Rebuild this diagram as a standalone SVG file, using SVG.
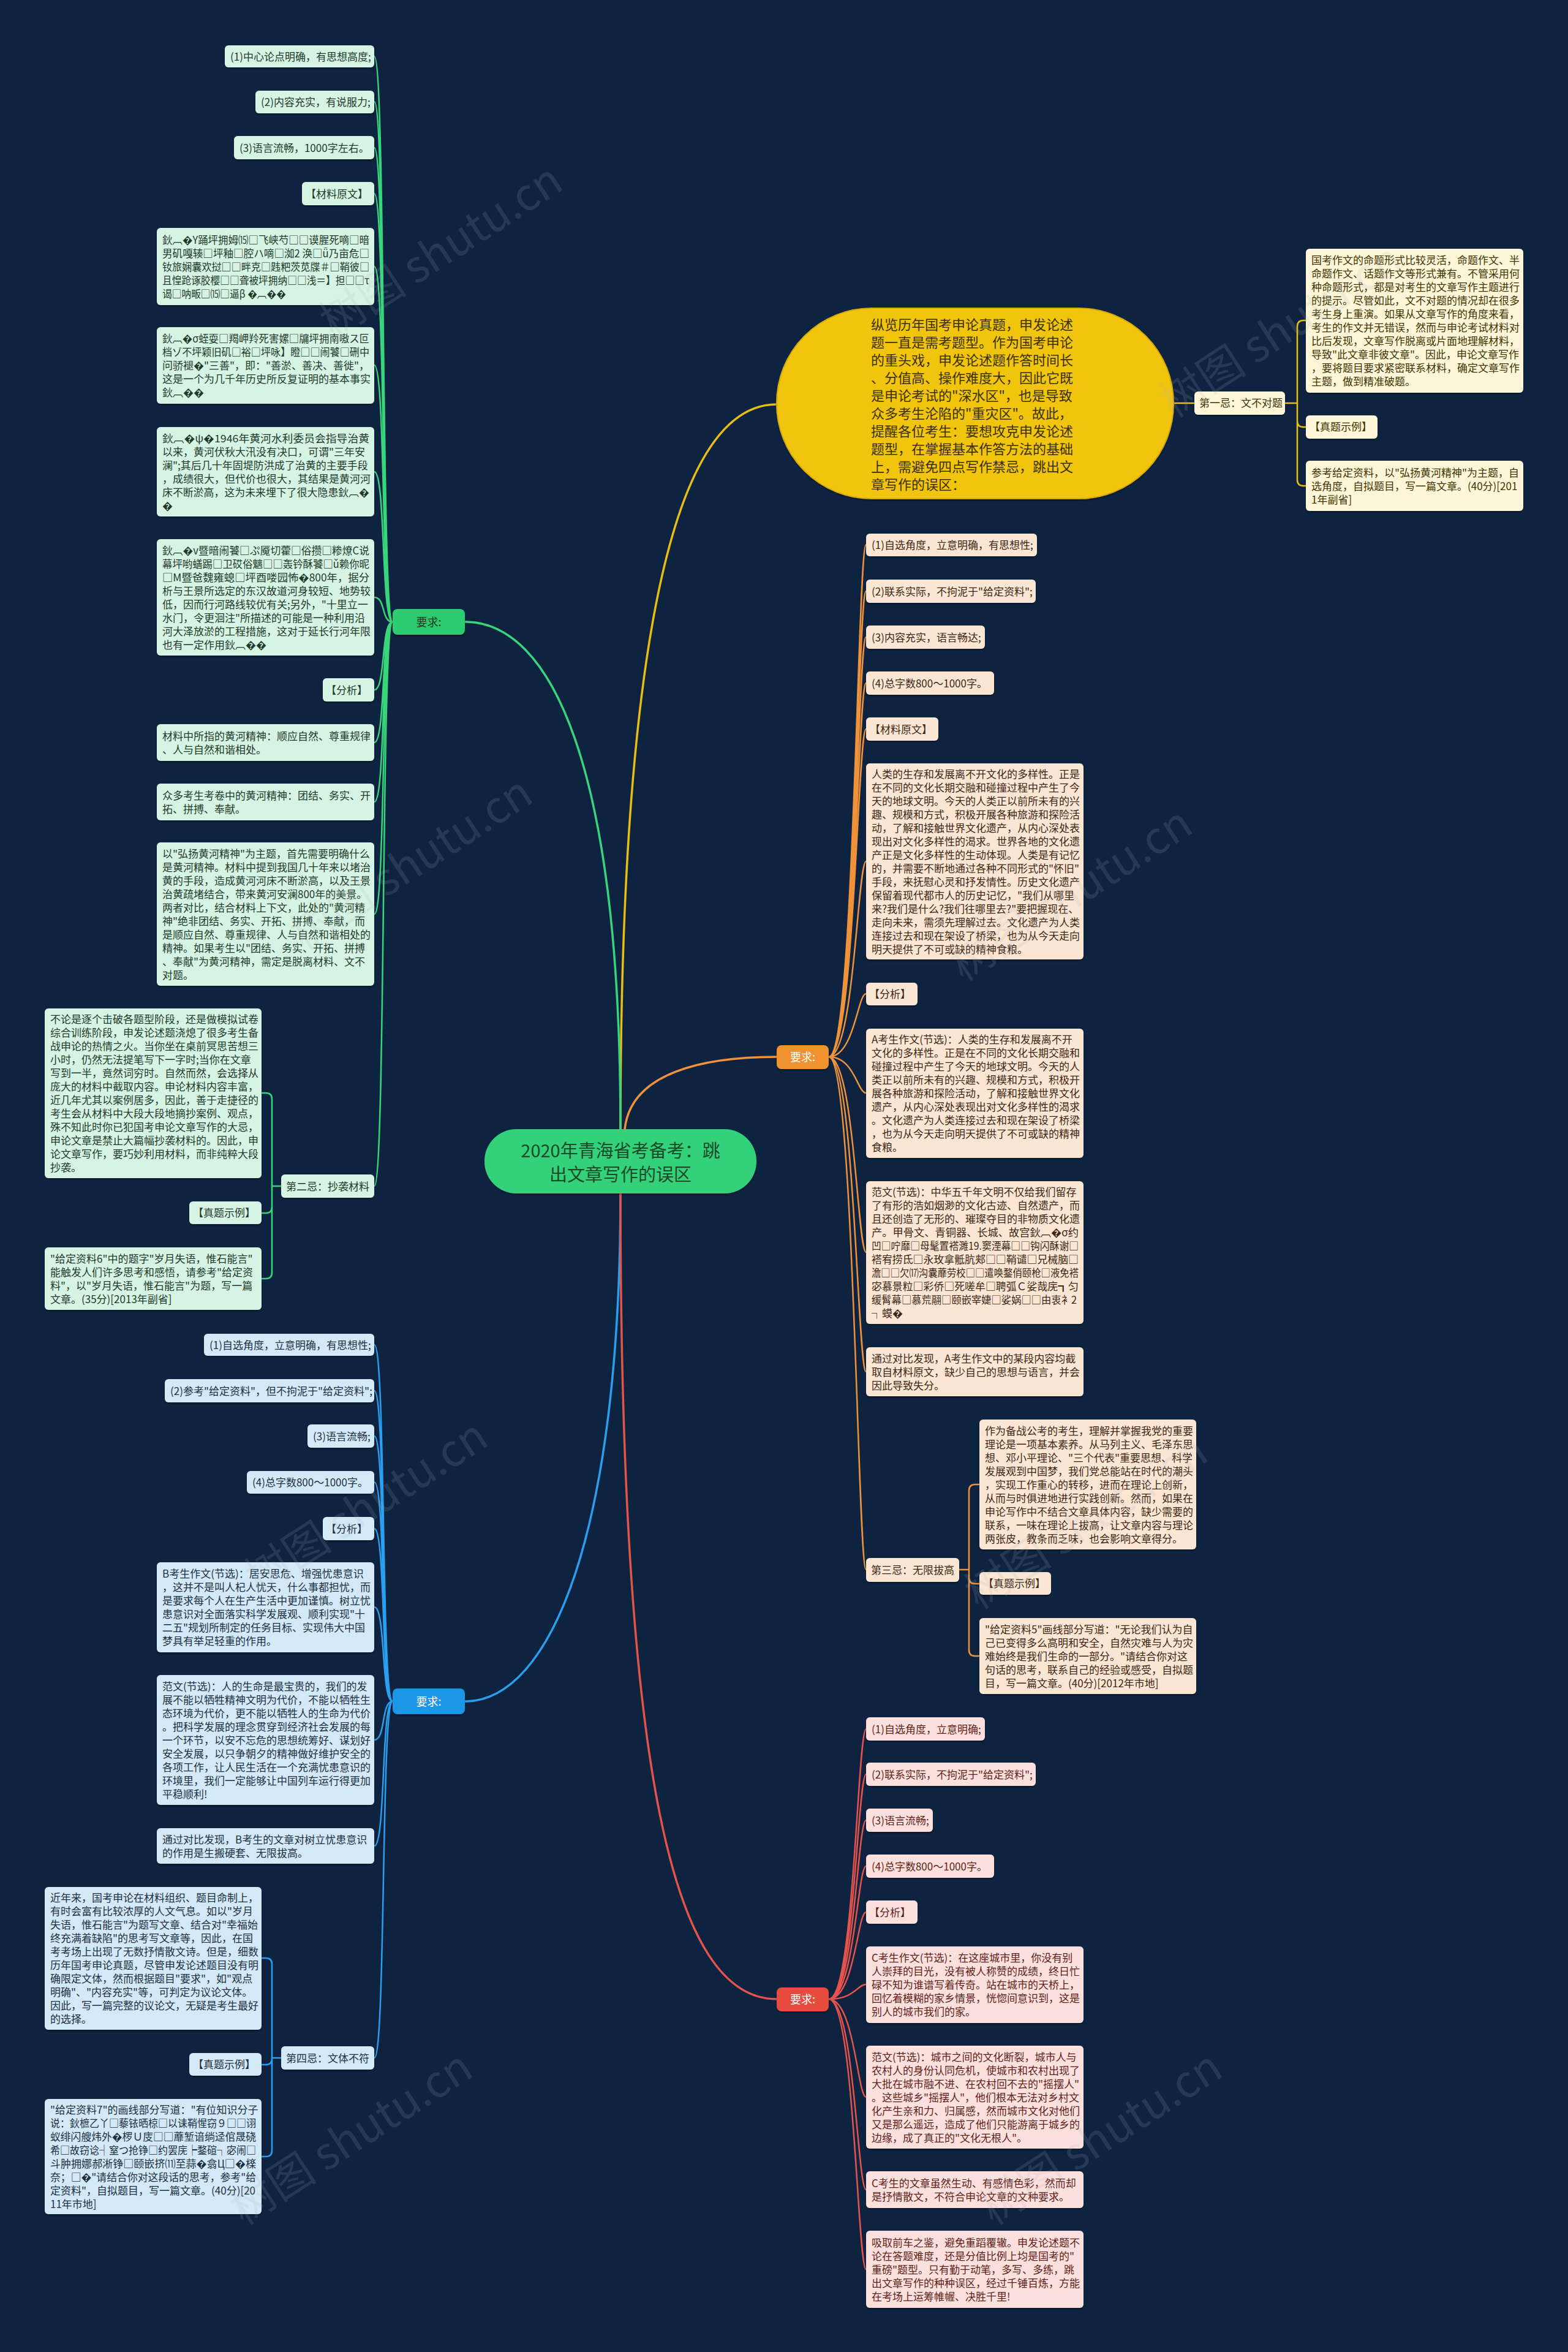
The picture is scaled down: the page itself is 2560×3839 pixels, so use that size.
<svg xmlns="http://www.w3.org/2000/svg" width="2560" height="3839" viewBox="0 0 2560 3839">
<defs>
<filter id="sh" x="-5%" y="-10%" width="110%" height="130%"><feDropShadow dx="0" dy="2" stdDeviation="1.2" flood-color="#000" flood-opacity="0.35"/></filter>
<style>
text{font-family:"Noto Sans CJK SC","Noto Sans","DejaVu Sans",sans-serif;font-size:17px}
.n rect{filter:url(#sh)}
.gr rect{fill:#d6f4e3}.gr text{fill:#1f3a2a}
.bl rect{fill:#d3e9f7}.bl text{fill:#1d2f42}
.or rect{fill:#fbe6d3}.or text{fill:#3e2614}
.rd rect{fill:#fce0dd}.rd text{fill:#5c1f18}
.ye rect{fill:#fdf6d9}.ye text{fill:#3f3400}
.c{fill:none;stroke-linecap:round;stroke-linejoin:round}
.cg{stroke:#37d67a;stroke-width:2.5}
.cb{stroke:#2a9ff0;stroke-width:2.5}
.co{stroke:#f0923a;stroke-width:2.5}
.cr{stroke:#e5534b;stroke-width:2.5}
.cy{stroke:#e9bd12;stroke-width:2.5}
.main{stroke-width:3.5}
.rt{font-size:29px;fill:#1a4a28}
.et{font-size:22px;fill:#3a3000}
.rq{font-size:18px}
.wm{font-size:72px;fill:#aab4c0;opacity:0.15}
</style>
</defs>
<rect width="2560" height="3839" fill="#0e2340"/>

<g id="connectors">
<path class="c cy main" d="M1013,1843 C1013,1150 1080,660 1268,660"/>
<path class="c co main" d="M1020,1843 C1030,1750 1150,1725 1268,1725"/>
<path class="c cg main" d="M759,1015 C900,1015 1013,1250 1013,1843"/>
<path class="c cb main" d="M759,2777 C900,2777 1013,2500 1013,1948"/>
<path class="c cr main" d="M1013,1948 C1013,2900 1100,3263 1268,3263"/>
<path class="c cy" d="M1916,658 H1950"/>
<path class="c cy" d="M2098,658 H2118 M2118,658 V533 Q2118,523 2128,523 H2132 M2118,658 V687 Q2118,697 2128,697 H2132 M2118,658 V783 Q2118,793 2128,793 H2132"/>
<path class="c cg" d="M641,1015 C622,1015 630,92 611,92 M641,1015 C622,1015 630,166 611,166 M641,1015 C622,1015 630,241 611,241 M641,1015 C622,1015 630,316 611,316 M641,1015 C622,1015 630,435 611,435 M641,1015 C622,1015 630,596 611,596 M641,1015 C622,1015 630,770 611,770 M641,1015 C622,1015 630,975 611,975 M641,1015 C622,1015 630,1126 611,1126 M641,1015 C622,1015 630,1212 611,1212 M641,1015 C622,1015 630,1309 611,1309 M641,1015 C622,1015 630,1492 611,1492 M641,1015 C622,1015 630,1936 611,1936"/>
<path class="c cg" d="M459,1936 H444 M444,1936 V1794 Q444,1784 434,1784 H427 M444,1936 V1970 Q444,1980 434,1980 H427 M444,1936 V2077 Q444,2087 434,2087 H427"/>
<path class="c cb" d="M641,2777 C622,2777 630,2195 611,2195 M641,2777 C622,2777 630,2270 611,2270 M641,2777 C622,2777 630,2344 611,2344 M641,2777 C622,2777 630,2419 611,2419 M641,2777 C622,2777 630,2495 611,2495 M641,2777 C622,2777 630,2623 611,2623 M641,2777 C622,2777 630,2840 611,2840 M641,2777 C622,2777 630,3013 611,3013 M641,2777 C622,2777 630,3359 611,3359"/>
<path class="c cb" d="M459,3359 H444 M444,3359 V3206 Q444,3196 434,3196 H427 M444,3359 V3360 Q444,3370 434,3370 H427 M444,3359 V3510 Q444,3520 434,3520 H427"/>
<path class="c co" d="M1353,1725 C1395,1725 1400,889 1414,889 M1353,1725 C1395,1725 1400,965 1414,965 M1353,1725 C1395,1725 1400,1040 1414,1040 M1353,1725 C1395,1725 1400,1115 1414,1115 M1353,1725 C1395,1725 1400,1190 1414,1190 M1353,1725 C1395,1725 1400,1406 1414,1406 M1353,1725 C1395,1725 1400,1622 1414,1622 M1353,1725 C1395,1725 1400,1784 1414,1784 M1353,1725 C1395,1725 1400,2044 1414,2044 M1353,1725 C1395,1725 1400,2239 1414,2239 M1353,1725 C1395,1725 1400,2562 1414,2562"/>
<path class="c co" d="M1566,2562 H1582 M1582,2562 V2433 Q1582,2423 1592,2423 H1599 M1582,2562 V2575 Q1582,2585 1592,2585 H1599 M1582,2562 V2693 Q1582,2703 1592,2703 H1599"/>
<path class="c cr" d="M1353,3263 C1395,3263 1400,2822 1414,2822 M1353,3263 C1395,3263 1400,2896 1414,2896 M1353,3263 C1395,3263 1400,2971 1414,2971 M1353,3263 C1395,3263 1400,3046 1414,3046 M1353,3263 C1395,3263 1400,3121 1414,3121 M1353,3263 C1395,3263 1400,3239 1414,3239 M1353,3263 C1395,3263 1400,3423 1414,3423 M1353,3263 C1395,3263 1400,3574 1414,3574 M1353,3263 C1395,3263 1400,3704 1414,3704"/>
</g>

<g id="root" class="n"><rect x="791" y="1843" width="444" height="105" rx="52" fill="#33d17a"/>
<text class="rt" x="1013" y="1889" text-anchor="middle">2020年青海省考备考：跳</text>
<text class="rt" x="1013" y="1928" text-anchor="middle">出文章写作的误区</text></g>

<g id="intro" class="n"><rect x="1268" y="503" width="648" height="311" rx="155" fill="#f1c40f" stroke="#d6a90a" stroke-width="2"/>
<text class="et"><tspan x="1422" y="538">纵览历年国考申论真题，申发论述</tspan><tspan x="1422" y="567">题一直是需考题型。作为国考申论</tspan><tspan x="1422" y="596">的重头戏，申发论述题作答时间长</tspan><tspan x="1422" y="625">、分值高、操作难度大，因此它既</tspan><tspan x="1422" y="654">是申论考试的"深水区"，也是导致</tspan><tspan x="1422" y="683">众多考生沦陷的"重灾区"。故此，</tspan><tspan x="1422" y="712">提醒各位考生：要想攻克申发论述</tspan><tspan x="1422" y="741">题型，在掌握基本作答方法的基础</tspan><tspan x="1422" y="770">上，需避免四点写作禁忌，跳出文</tspan><tspan x="1422" y="799">章写作的误区：</tspan></text></g>

<g id="y-ji1" class="n ye"><rect x="1950" y="639" width="148" height="38" rx="6"/><text x="1958" y="664">第一忌：文不对题</text></g>
<g id="y-txt" class="n ye"><rect x="2132" y="406" width="355" height="235" rx="6"/><text><tspan x="2141" y="431">国考作文的命题形式比较灵活，命题作文、半</tspan><tspan x="2141" y="453">命题作文、话题作文等形式兼有。不管采用何</tspan><tspan x="2141" y="475">种命题形式，都是对考生的文章写作主题进行</tspan><tspan x="2141" y="497">的提示。尽管如此，文不对题的情况却在很多</tspan><tspan x="2141" y="519">考生身上重演。如果从文章写作的角度来看，</tspan><tspan x="2141" y="541">考生的作文并无错误，然而与申论考试材料对</tspan><tspan x="2141" y="563">比后发现，文章写作脱离或片面地理解材料，</tspan><tspan x="2141" y="585">导致"此文章非彼文章"。因此，申论文章写作</tspan><tspan x="2141" y="607">，要将题目要求紧密联系材料，确定文章写作</tspan><tspan x="2141" y="629">主题，做到精准破题。</tspan></text></g>
<g id="y-zt" class="n ye"><rect x="2132" y="678" width="117" height="38" rx="6"/><text x="2138" y="703">【真题示例】</text></g>
<g id="y-q" class="n ye"><rect x="2132" y="752" width="355" height="82" rx="6"/><text><tspan x="2141" y="777.5">参考给定资料，以"弘扬黄河精神"为主题，自</tspan><tspan x="2141" y="799.5">选角度，自拟题目，写一篇文章。(40分)[201</tspan><tspan x="2141" y="821.5">1年副省]</tspan></text></g>

<g id="g-req" class="n"><rect x="641" y="994" width="118" height="42" rx="8" fill="#2ecc71"/><text class="rq" x="700" y="1022" text-anchor="middle" fill="#173a22">要求:</text></g>
<g id="g1" class="n gr"><rect x="367" y="74" width="244" height="36" rx="6"/><text x="376" y="98.5">(1)中心论点明确，有思想高度;</text></g>
<g id="g2" class="n gr"><rect x="417" y="148" width="194" height="37" rx="6"/><text x="426" y="173">(2)内容充实，有说服力;</text></g>
<g id="g3" class="n gr"><rect x="382" y="222" width="229" height="38" rx="6"/><text x="391" y="247.5">(3)语言流畅，1000字左右。</text></g>
<g id="g4" class="n gr"><rect x="493" y="297" width="118" height="38" rx="6"/><text x="499" y="322.5">【材料原文】</text></g>
<g id="g5" class="n gr"><rect x="256" y="372" width="355" height="126" rx="6"/>
<text x="265" y="397.5" textLength="338" lengthAdjust="spacingAndGlyphs">鈥︹�Y踊坪拥姆⒂□飞峡芍□□谟腥死嘀□暗</text>
<text x="265" y="419.5" textLength="338" lengthAdjust="spacingAndGlyphs">男矶嘎辏□坪釉□腔ハ嘀□洳2 涣□ǖ乃亩危□</text>
<text x="265" y="441.5" textLength="338" lengthAdjust="spacingAndGlyphs">钕旅娴囊欢挝□□畔克□韪粑茨苋牒＃□鞘彼□</text>
<text x="265" y="463.5" textLength="338" lengthAdjust="spacingAndGlyphs">且惶跄诼胶樱□□聋被坪拥纳□□浅＝】担□□τ</text>
<text x="265" y="485.5" textLength="202" lengthAdjust="spacingAndGlyphs">谒□呐畈□⒂□逼β  �︹��</text></g>
<g id="g6" class="n gr"><rect x="256" y="534" width="355" height="125" rx="6"/>
<text x="265" y="559" textLength="338" lengthAdjust="spacingAndGlyphs">鈥︹�σ蛭耍□羯岬羚死害嫘□牖坪拥南嗷ス叵</text>
<text x="265" y="581" textLength="338" lengthAdjust="spacingAndGlyphs">档ゾ不坪颖旧矶□裕□坪咏】瞪□□闹饕□硎中</text>
<text x="265" y="603" textLength="338" lengthAdjust="spacingAndGlyphs">问骄褪�"三善"，即："善淤、善决、善徙"，</text>
<text x="265" y="625">这是一个为几千年历史所反复证明的基本事实</text>
<text x="265" y="647">鈥︹��</text></g>
<g id="g7" class="n gr"><rect x="256" y="697" width="355" height="146" rx="6"/>
<text x="265" y="721.5" textLength="338" lengthAdjust="spacingAndGlyphs">鈥︹�ψ�1946年黄河水利委员会指导治黄</text>
<text><tspan x="265" y="743.5">以来，黄河伏秋大汛没有决口，可谓"三年安</tspan><tspan x="265" y="765.5">澜";其后几十年固堤防洪成了治黄的主要手段</tspan><tspan x="265" y="787.5">，成绩很大，但代价也很大，其结果是黄河河</tspan></text>
<text x="265" y="809.5" textLength="338" lengthAdjust="spacingAndGlyphs">床不断淤高，这为未来埋下了很大隐患鈥︹�</text>
<text x="265" y="831.5">�</text></g>
<g id="g8" class="n gr"><rect x="256" y="880" width="355" height="190" rx="6"/>
<text x="265" y="904.5" textLength="338" lengthAdjust="spacingAndGlyphs">鈥︹�v暨暗闹饕□ぷ魇切藿□俗攒□糁燎C说</text>
<text x="265" y="926.5" textLength="338" lengthAdjust="spacingAndGlyphs">幕坪哟蟮踢□卫砹俗魑□□轰钤酥饕□ǔ赖你昵</text>
<text x="265" y="948.5" textLength="338" lengthAdjust="spacingAndGlyphs">□M暨爸魏雍螅□坪酉喽园怖�800年，据分</text>
<text><tspan x="265" y="970.5">析与王景所选定的东汉故道河身较短、地势较</tspan><tspan x="265" y="992.5">低，因而行河路线较优有关;另外，"十里立一</tspan><tspan x="265" y="1014.5">水门，令更洄注"所描述的可能是一种利用沿</tspan><tspan x="265" y="1036.5">河大泽放淤的工程措施，这对于延长行河年限</tspan><tspan x="265" y="1058.5">也有一定作用鈥︹��</tspan></text></g>
<g id="g9" class="n gr"><rect x="527" y="1107" width="84" height="38" rx="6"/><text x="532" y="1132.5">【分析】</text></g>
<g id="g10" class="n gr"><rect x="256" y="1182" width="355" height="60" rx="6"/><text><tspan x="265" y="1207.5">材料中所指的黄河精神：顺应自然、尊重规律</tspan><tspan x="265" y="1229.5">、人与自然和谐相处。</tspan></text></g>
<g id="g11" class="n gr"><rect x="256" y="1279" width="355" height="60" rx="6"/><text><tspan x="265" y="1304.5">众多考生考卷中的黄河精神：团结、务实、开</tspan><tspan x="265" y="1326.5">拓、拼搏、奉献。</tspan></text></g>
<g id="g12" class="n gr"><rect x="256" y="1375" width="355" height="234" rx="6"/><text><tspan x="265" y="1399.5">以"弘扬黄河精神"为主题，首先需要明确什么</tspan><tspan x="265" y="1421.5">是黄河精神。材料中提到我国几十年来以堵治</tspan><tspan x="265" y="1443.5">黄的手段，造成黄河河床不断淤高，以及王景</tspan><tspan x="265" y="1465.5">治黄疏堵结合，带来黄河安澜800年的美景。</tspan><tspan x="265" y="1487.5">两者对比，结合材料上下文，此处的"黄河精</tspan><tspan x="265" y="1509.5">神"绝非团结、务实、开拓、拼搏、奉献，而</tspan><tspan x="265" y="1531.5">是顺应自然、尊重规律、人与自然和谐相处的</tspan><tspan x="265" y="1553.5">精神。如果考生以"团结、务实、开拓、拼搏</tspan><tspan x="265" y="1575.5">、奉献"为黄河精神，需定是脱离材料、文不</tspan><tspan x="265" y="1597.5">对题。</tspan></text></g>
<g id="g-ji2" class="n gr"><rect x="459" y="1917" width="152" height="38" rx="6"/><text x="467" y="1942.5">第二忌：抄袭材料</text></g>
<g id="g-ji2-txt" class="n gr"><rect x="73" y="1646" width="354" height="277" rx="6"/><text><tspan x="82" y="1670">不论是逐个击破各题型阶段，还是做模拟试卷</tspan><tspan x="82" y="1692">综合训练阶段，申发论述题浇熄了很多考生备</tspan><tspan x="82" y="1714">战申论的热情之火。当你坐在桌前冥思苦想三</tspan><tspan x="82" y="1736">小时，仍然无法提笔写下一字时;当你在文章</tspan><tspan x="82" y="1758">写到一半，竟然词穷时。自然而然，会选择从</tspan><tspan x="82" y="1780">庞大的材料中截取内容。申论材料内容丰富，</tspan><tspan x="82" y="1802">近几年尤其以案例居多，因此，善于走捷径的</tspan><tspan x="82" y="1824">考生会从材料中大段大段地摘抄案例、观点，</tspan><tspan x="82" y="1846">殊不知此时你已犯国考申论文章写作的大忌，</tspan><tspan x="82" y="1868">申论文章是禁止大篇幅抄袭材料的。因此，申</tspan><tspan x="82" y="1890">论文章写作，要巧妙利用材料，而非纯粹大段</tspan><tspan x="82" y="1912">抄袭。</tspan></text></g>
<g id="g-ji2-zt" class="n gr"><rect x="309" y="1961" width="118" height="37" rx="6"/><text x="315" y="1986">【真题示例】</text></g>
<g id="g-ji2-q" class="n gr"><rect x="73" y="2036" width="354" height="102" rx="6"/><text><tspan x="82" y="2060.5">"给定资料6"中的题字"岁月失语，惟石能言"</tspan><tspan x="82" y="2082.5">能触发人们许多思考和感悟，请参考"给定资</tspan><tspan x="82" y="2104.5">料"，以"岁月失语，惟石能言"为题，写一篇</tspan><tspan x="82" y="2126.5">文章。(35分)[2013年副省]</tspan></text></g>

<g id="b-req" class="n"><rect x="641" y="2756" width="118" height="42" rx="8" fill="#1e96e6"/><text class="rq" x="700" y="2784" text-anchor="middle" fill="#ffffff">要求:</text></g>
<g id="b1" class="n bl"><rect x="333" y="2177" width="278" height="36" rx="6"/><text x="342" y="2201.5">(1)自选角度，立意明确，有思想性;</text></g>
<g id="b2" class="n bl"><rect x="269" y="2251" width="342" height="38" rx="6"/><text x="278" y="2276.5">(2)参考"给定资料"，但不拘泥于"给定资料";</text></g>
<g id="b3" class="n bl"><rect x="502" y="2325" width="109" height="38" rx="6"/><text x="511" y="2350.5">(3)语言流畅;</text></g>
<g id="b4" class="n bl"><rect x="403" y="2401" width="208" height="37" rx="6"/><text x="412" y="2426">(4)总字数800～1000字。</text></g>
<g id="b5" class="n bl"><rect x="527" y="2476" width="84" height="38" rx="6"/><text x="532" y="2501.5">【分析】</text></g>
<g id="b6" class="n bl"><rect x="256" y="2550" width="355" height="147" rx="6"/><text><tspan x="265" y="2575">B考生作文(节选)：居安思危、增强忧患意识</tspan><tspan x="265" y="2597">，这并不是叫人杞人忧天，什么事都担忧，而</tspan><tspan x="265" y="2619">是要求每个人在生产生活中更加谨慎。树立忧</tspan><tspan x="265" y="2641">患意识对全面落实科学发展观、顺利实现"十</tspan><tspan x="265" y="2663">二五"规划所制定的任务目标、实现伟大中国</tspan><tspan x="265" y="2685">梦具有举足轻重的作用。</tspan></text></g>
<g id="b7" class="n bl"><rect x="256" y="2734" width="355" height="212" rx="6"/><text><tspan x="265" y="2758.5">范文(节选)：人的生命是最宝贵的，我们的发</tspan><tspan x="265" y="2780.5">展不能以牺牲精神文明为代价，不能以牺牲生</tspan><tspan x="265" y="2802.5">态环境为代价，更不能以牺牲人的生命为代价</tspan><tspan x="265" y="2824.5">。把科学发展的理念贯穿到经济社会发展的每</tspan><tspan x="265" y="2846.5">一个环节，以安不忘危的思想统筹好、谋划好</tspan><tspan x="265" y="2868.5">安全发展，以只争朝夕的精神做好维护安全的</tspan><tspan x="265" y="2890.5">各项工作，让人民生活在一个充满忧患意识的</tspan><tspan x="265" y="2912.5">环境里，我们一定能够让中国列车运行得更加</tspan><tspan x="265" y="2934.5">平稳顺利!</tspan></text></g>
<g id="b8" class="n bl"><rect x="256" y="2984" width="355" height="58" rx="6"/><text><tspan x="265" y="3008.5">通过对比发现，B考生的文章对树立忧患意识</tspan><tspan x="265" y="3030.5">的作用是生搬硬套、无限拔高。</tspan></text></g>
<g id="b-ji4" class="n bl"><rect x="459" y="3340" width="152" height="38" rx="6"/><text x="467" y="3365.5">第四忌：文体不符</text></g>
<g id="b-ji4-txt" class="n bl"><rect x="73" y="3080" width="354" height="233" rx="6"/><text><tspan x="82" y="3104">近年来，国考申论在材料组织、题目命制上，</tspan><tspan x="82" y="3126">有时会富有比较浓厚的人文气息。如以"岁月</tspan><tspan x="82" y="3148">失语，惟石能言"为题写文章、结合对"幸福始</tspan><tspan x="82" y="3170">终充满着缺陷"的思考写文章等，因此，在国</tspan><tspan x="82" y="3192">考考场上出现了无数抒情散文诗。但是，细数</tspan><tspan x="82" y="3214">历年国考申论真题，尽管申发论述题目没有明</tspan><tspan x="82" y="3236">确限定文体，然而根据题目"要求"，如"观点</tspan><tspan x="82" y="3258">明确"、"内容充实"等，可判定为议论文体。</tspan><tspan x="82" y="3280">因此，写一篇完整的议论文，无疑是考生最好</tspan><tspan x="82" y="3302">的选择。</tspan></text></g>
<g id="b-ji4-zt" class="n bl"><rect x="309" y="3351" width="118" height="37" rx="6"/><text x="315" y="3376">【真题示例】</text></g>
<g id="b-ji4-q" class="n bl"><rect x="73" y="3426" width="354" height="188" rx="6"/>
<text x="82" y="3449.5">"给定资料7"的画线部分写道："有位知识分子</text>
<text x="82" y="3471.5" textLength="336" lengthAdjust="spacingAndGlyphs">说：鈥樜乙丫□藜铱晒椋□以诔鞘惺窃９□□诩</text>
<text x="82" y="3493.5" textLength="336" lengthAdjust="spacingAndGlyphs">蚁绯闪艘炜外�椤Ｕ庋□□蘼堑谙绱迳倌晟硗</text>
<text x="82" y="3515.5" textLength="336" lengthAdjust="spacingAndGlyphs">希□故窃谂┤窒つ抢铮□约罢庑┝鍪碹┐宓闹□</text>
<text x="82" y="3537.5" textLength="336" lengthAdjust="spacingAndGlyphs">斗肿拥娜郝淅铮□颐嵌挤⑾至蒜�翕Ц□�檪</text>
<text x="82" y="3559.5" textLength="336" lengthAdjust="spacingAndGlyphs">奈；□�"请结合你对这段话的思考，参考"给</text>
<text><tspan x="82" y="3581.5">定资料"，自拟题目，写一篇文章。(40分)[20</tspan><tspan x="82" y="3603.5">11年市地]</tspan></text></g>

<g id="o-req" class="n"><rect x="1268" y="1706" width="85" height="39" rx="8" fill="#f0922e"/><text class="rq" x="1310.5" y="1732" text-anchor="middle" fill="#ffffff">要求:</text></g>
<g id="o1" class="n or"><rect x="1414" y="871" width="279" height="37" rx="6"/><text x="1423" y="896">(1)自选角度，立意明确，有思想性;</text></g>
<g id="o2" class="n or"><rect x="1414" y="946" width="277" height="38" rx="6"/><text x="1423" y="971.5">(2)联系实际，不拘泥于"给定资料";</text></g>
<g id="o3" class="n or"><rect x="1414" y="1021" width="194" height="38" rx="6"/><text x="1423" y="1046.5">(3)内容充实，语言畅达;</text></g>
<g id="o4" class="n or"><rect x="1414" y="1096" width="209" height="38" rx="6"/><text x="1423" y="1121.5">(4)总字数800～1000字。</text></g>
<g id="o5" class="n or"><rect x="1414" y="1171" width="118" height="38" rx="6"/><text x="1420" y="1196.5">【材料原文】</text></g>
<g id="o6" class="n or"><rect x="1414" y="1246" width="355" height="320" rx="6"/><text><tspan x="1423" y="1269.5">人类的生存和发展离不开文化的多样性。正是</tspan><tspan x="1423" y="1291.5">在不同的文化长期交融和碰撞过程中产生了今</tspan><tspan x="1423" y="1313.5">天的地球文明。今天的人类正以前所未有的兴</tspan><tspan x="1423" y="1335.5">趣、规模和方式，积极开展各种旅游和探险活</tspan><tspan x="1423" y="1357.5">动，了解和接触世界文化遗产，从内心深处表</tspan><tspan x="1423" y="1379.5">现出对文化多样性的渴求。世界各地的文化遗</tspan><tspan x="1423" y="1401.5">产正是文化多样性的生动体现。人类是有记忆</tspan><tspan x="1423" y="1423.5">的，并需要不断地通过各种不同形式的"怀旧"</tspan><tspan x="1423" y="1445.5">手段，来抚慰心灵和抒发情性。历史文化遗产</tspan><tspan x="1423" y="1467.5">保留着现代都市人的历史记忆，"我们从哪里</tspan><tspan x="1423" y="1489.5">来?我们是什么?我们往哪里去?"要把握现在、</tspan><tspan x="1423" y="1511.5">走向未来，需须先理解过去。文化遗产为人类</tspan><tspan x="1423" y="1533.5">连接过去和现在架设了桥梁，也为从今天走向</tspan><tspan x="1423" y="1555.5">明天提供了不可或缺的精神食粮。</tspan></text></g>
<g id="o7" class="n or"><rect x="1414" y="1604" width="84" height="37" rx="6"/><text x="1419" y="1629">【分析】</text></g>
<g id="o8" class="n or"><rect x="1414" y="1679" width="355" height="211" rx="6"/><text><tspan x="1423" y="1703">A考生作文(节选)：人类的生存和发展离不开</tspan><tspan x="1423" y="1725">文化的多样性。正是在不同的文化长期交融和</tspan><tspan x="1423" y="1747">碰撞过程中产生了今天的地球文明。今天的人</tspan><tspan x="1423" y="1769">类正以前所未有的兴趣、规模和方式，积极开</tspan><tspan x="1423" y="1791">展各种旅游和探险活动，了解和接触世界文化</tspan><tspan x="1423" y="1813">遗产，从内心深处表现出对文化多样性的渴求</tspan><tspan x="1423" y="1835">。文化遗产为人类连接过去和现在架设了桥梁</tspan><tspan x="1423" y="1857">，也为从今天走向明天提供了不可或缺的精神</tspan><tspan x="1423" y="1879">食粮。</tspan></text></g>
<g id="o9" class="n or"><rect x="1414" y="1928" width="355" height="233" rx="6"/>
<text><tspan x="1423" y="1952">范文(节选)：中华五千年文明不仅给我们留存</tspan><tspan x="1423" y="1974">了有形的浩如烟渺的文化古迹、自然遗产，而</tspan><tspan x="1423" y="1996">且还创造了无形的、璀璨夺目的非物质文化遗</tspan></text>
<text x="1423" y="2018" textLength="338" lengthAdjust="spacingAndGlyphs">产。甲骨文、青铜器、长城、故宫鈥︹�σ约</text>
<text x="1423" y="2040" textLength="338" lengthAdjust="spacingAndGlyphs">凹□咛靡□母髦置褡濉19.窦湮幕□□钩闪酥谢□</text>
<text x="1423" y="2062" textLength="338" lengthAdjust="spacingAndGlyphs">褡宥捞氐□永玫拿骶肮郏□□鞘谴□兄械脑□</text>
<text x="1423" y="2084" textLength="338" lengthAdjust="spacingAndGlyphs">澹□□欠⒄沟囊蘼劳校□□遣唤鍪俏颐枪□液免褡</text>
<text x="1423" y="2106" textLength="338" lengthAdjust="spacingAndGlyphs">宓慕景粒□彩侨□死嗟牟□聘弧Ｃ娑哉庑┓匀</text>
<text x="1423" y="2128" textLength="335" lengthAdjust="spacingAndGlyphs">缓髾幕□慕荒翮□颐嵌宰婕□娑娲□□由衷衤2</text>
<text x="1423" y="2150">┐蟆�</text></g>
<g id="o10" class="n or"><rect x="1414" y="2199" width="355" height="80" rx="6"/><text><tspan x="1423" y="2223.5">通过对比发现，A考生作文中的某段内容均截</tspan><tspan x="1423" y="2245.5">取自材料原文，缺少自己的思想与语言，并会</tspan><tspan x="1423" y="2267.5">因此导致失分。</tspan></text></g>
<g id="o-ji3" class="n or"><rect x="1414" y="2543" width="152" height="39" rx="6"/><text x="1422" y="2568.5">第三忌：无限拔高</text></g>
<g id="o-ji3-txt" class="n or"><rect x="1599" y="2317" width="354" height="212" rx="6"/><text><tspan x="1608" y="2341.5">作为备战公考的考生，理解并掌握我党的重要</tspan><tspan x="1608" y="2363.5">理论是一项基本素养。从马列主义、毛泽东思</tspan><tspan x="1608" y="2385.5">想、邓小平理论、"三个代表"重要思想、科学</tspan><tspan x="1608" y="2407.5">发展观到中国梦，我们党总能站在时代的潮头</tspan><tspan x="1608" y="2429.5">，实现工作重心的转移，进而在理论上创新，</tspan><tspan x="1608" y="2451.5">从而与时俱进地进行实践创新。然而，如果在</tspan><tspan x="1608" y="2473.5">申论写作中不结合文章具体内容，缺少需要的</tspan><tspan x="1608" y="2495.5">联系，一味在理论上拔高，让文章内容与理论</tspan><tspan x="1608" y="2517.5">两张皮，教条而乏味，也会影响文章得分。</tspan></text></g>
<g id="o-ji3-zt" class="n or"><rect x="1599" y="2566" width="117" height="37" rx="6"/><text x="1605" y="2591">【真题示例】</text></g>
<g id="o-ji3-q" class="n or"><rect x="1599" y="2641" width="354" height="124" rx="6"/><text><tspan x="1608" y="2665.5">"给定资料5"画线部分写道："无论我们认为自</tspan><tspan x="1608" y="2687.5">己已变得多么高明和安全，自然灾难与人为灾</tspan><tspan x="1608" y="2709.5">难始终是我们生命的一部分。"请结合你对这</tspan><tspan x="1608" y="2731.5">句话的思考，联系自己的经验或感受，自拟题</tspan><tspan x="1608" y="2753.5">目，写一篇文章。(40分)[2012年市地]</tspan></text></g>

<g id="r-req" class="n"><rect x="1268" y="3244" width="85" height="39" rx="8" fill="#e64b3c"/><text class="rq" x="1310.5" y="3270" text-anchor="middle" fill="#ffffff">要求:</text></g>
<g id="r1" class="n rd"><rect x="1414" y="2803" width="194" height="38" rx="6"/><text x="1423" y="2828.5">(1)自选角度，立意明确;</text></g>
<g id="r2" class="n rd"><rect x="1414" y="2877" width="277" height="38" rx="6"/><text x="1423" y="2902.5">(2)联系实际，不拘泥于"给定资料";</text></g>
<g id="r3" class="n rd"><rect x="1414" y="2952" width="109" height="38" rx="6"/><text x="1423" y="2977.5">(3)语言流畅;</text></g>
<g id="r4" class="n rd"><rect x="1414" y="3027" width="209" height="38" rx="6"/><text x="1423" y="3052.5">(4)总字数800～1000字。</text></g>
<g id="r5" class="n rd"><rect x="1414" y="3102" width="84" height="38" rx="6"/><text x="1419" y="3127.5">【分析】</text></g>
<g id="r6" class="n rd"><rect x="1414" y="3177" width="355" height="125" rx="6"/><text><tspan x="1423" y="3202">C考生作文(节选)：在这座城市里，你没有别</tspan><tspan x="1423" y="3224">人崇拜的目光，没有被人称赞的成绩，终日忙</tspan><tspan x="1423" y="3246">碌不知为谁谱写着传奇。站在城市的天桥上，</tspan><tspan x="1423" y="3268">回忆着模糊的家乡情景，恍惚间意识到，这是</tspan><tspan x="1423" y="3290">别人的城市我们的家。</tspan></text></g>
<g id="r7" class="n rd"><rect x="1414" y="3339" width="355" height="168" rx="6"/><text><tspan x="1423" y="3363.5">范文(节选)：城市之间的文化断裂，城市人与</tspan><tspan x="1423" y="3385.5">农村人的身份认同危机，使城市和农村出现了</tspan><tspan x="1423" y="3407.5">大批在城市融不进、在农村回不去的"摇摆人"</tspan><tspan x="1423" y="3429.5">。这些城乡"摇摆人"，他们根本无法对乡村文</tspan><tspan x="1423" y="3451.5">化产生亲和力、归属感，然而城市文化对他们</tspan><tspan x="1423" y="3473.5">又是那么遥远，造成了他们只能游离于城乡的</tspan><tspan x="1423" y="3495.5">边缘，成了真正的"文化无根人"。</tspan></text></g>
<g id="r8" class="n rd"><rect x="1414" y="3544" width="355" height="60" rx="6"/><text><tspan x="1423" y="3569.5">C考生的文章虽然生动、有感情色彩，然而却</tspan><tspan x="1423" y="3591.5">是抒情散文，不符合申论文章的文种要求。</tspan></text></g>
<g id="r9" class="n rd"><rect x="1414" y="3641" width="355" height="126" rx="6"/><text><tspan x="1423" y="3666.5">吸取前车之鉴，避免重蹈覆辙。申发论述题不</tspan><tspan x="1423" y="3688.5">论在答题难度，还是分值比例上均是国考的"</tspan><tspan x="1423" y="3710.5">重磅"题型。只有勤于动笔，多写、多练，跳</tspan><tspan x="1423" y="3732.5">出文章写作的种种误区，经过千锤百炼，方能</tspan><tspan x="1423" y="3754.5">在考场上运筹帷幄、决胜千里!</tspan></text></g>

<g id="watermark" text-anchor="middle">
<text class="wm" transform="translate(734,430) rotate(-33)">树图 shutu.cn</text>
<text class="wm" transform="translate(2105,560) rotate(-33)">树图 shutu.cn</text>
<text class="wm" transform="translate(685,1430) rotate(-33)">树图 shutu.cn</text>
<text class="wm" transform="translate(1762,1480) rotate(-33)">树图 shutu.cn</text>
<text class="wm" transform="translate(612,2480) rotate(-33)">树图 shutu.cn</text>
<text class="wm" transform="translate(1787,2505) rotate(-33)">树图 shutu.cn</text>
<text class="wm" transform="translate(587,3510) rotate(-33)">树图 shutu.cn</text>
<text class="wm" transform="translate(1811,3510) rotate(-33)">树图 shutu.cn</text>
</g>
</svg>
